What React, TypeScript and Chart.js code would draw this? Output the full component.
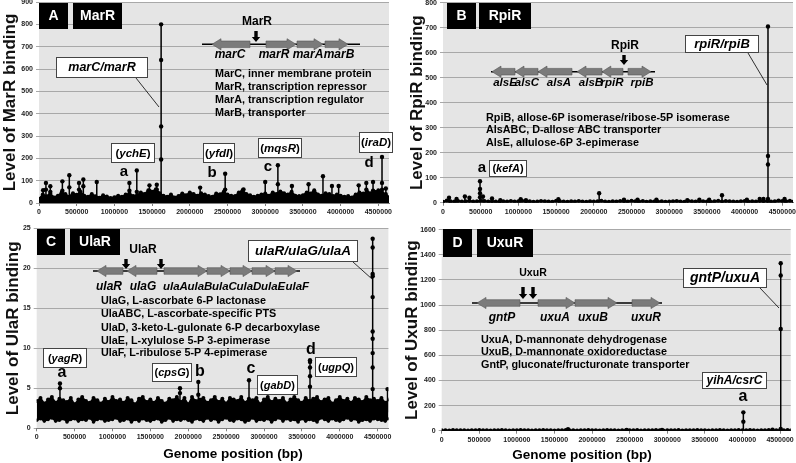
import React, { useEffect, useRef } from "react";
import { Chart, registerables } from "chart.js";

Chart.register(...registerables);

const FONT = '"Liberation Sans", Arial, Helvetica, sans-serif';

// ---------- shared axis data ----------
const GENOME_END = 4641652;
const BIN_SIZE = 50000;
const positionTicks = [0, 500000, 1000000, 1500000, 2000000, 2500000, 3000000, 3500000, 4000000, 4500000];

// ---------- Panel A: MarR ----------
const marTicks = [0, 100, 200, 300, 400, 500, 600, 700, 800, 900];
const marBackground = [
  18, 38, 30, 42, 25, 33, 47, 40, 28, 44,
  37, 50, 33, 28, 40, 30, 24, 35, 29, 22,
  26, 33, 28, 38, 42, 31, 35, 47, 40, 57,
  50, 62, 44, 33, 28, 38, 25, 31, 42, 35,
  47, 40, 33, 44, 38, 31, 28, 42, 39, 50,
  38, 33, 31, 47, 57, 40, 35, 28, 33, 38,
  42, 33, 47, 40, 52, 44, 38, 50, 33, 31,
  35, 47, 42, 57, 38, 33, 44, 40, 31, 38,
  33, 28, 31, 25, 38, 47, 42, 52, 44, 50,
  57, 47, 40, 24,
];
const marPeaks: [number, number[]][] = [
  [55000, [57]], [92000, [90, 60]], [150000, [75, 50]], [310000, [97, 55]],
  [402000, [124, 70]], [531000, [90, 60]], [588000, [105, 75]], [766000, [94]],
  [1199000, [90, 55]], [1297000, [146, 50]], [1465000, [79, 55]], [1562000, [82, 60]],
  [1619600, [800, 640, 343, 195]], [2137000, [69]], [2469000, [131, 60]], [2712000, [61]],
  [3000000, [94]], [3168000, [169, 84]], [3354000, [76]], [3575000, [84]],
  [3766000, [120]], [3885000, [76]], [3974000, [76]], [4240000, [79]],
  [4341000, [90, 60]], [4430000, [94, 55]], [4549000, [206, 90, 60]], [4600000, [65]],
];

// ---------- Panel B: RpiR ----------
const rpiTicks = [0, 100, 200, 300, 400, 500, 600, 700, 800];
const rpiBackground = [
  4, 9, 6, 5, 7, 5, 6, 8, 5, 6,
  8, 7, 5, 6, 5, 4, 6, 5, 7, 5,
  6, 8, 5, 6, 4, 5, 7, 6, 5, 4,
  8, 6, 5, 4, 6, 5, 7, 5, 4, 6,
  5, 6, 8, 5, 4, 6, 5, 7, 6, 5,
  8, 6, 5, 7, 4, 6, 5, 5, 6, 4,
  5, 6, 7, 5, 4, 8, 6, 5, 7, 6,
  5, 4, 6, 8, 5, 7, 6, 5, 4, 6,
  7, 5, 6, 5, 8, 6, 7, 5, 6, 9,
  7, 6, 8, 5,
];
const rpiPeaks: [number, number[]][] = [
  [80000, [20]], [180000, [15]], [290000, [25]], [350000, [20]],
  [491000, [86, 55, 38, 22]], [530000, [25]], [650000, [17]], [760000, [10]],
  [1030000, [14]], [1100000, [10]], [1530000, [14]], [2071000, [38]],
  [2400000, [12]], [2580000, [12]], [2830000, [12]], [3240000, [10]],
  [3400000, [12]], [3530000, [12]], [3700000, [30]], [4030000, [12]],
  [4200000, [15]], [4250000, [15]], [4310000, [705, 187, 153, 15]], [4530000, [15]],
];

// ---------- Panel C: UlaR ----------
const ulaTicks = [0, 5, 10, 15, 20, 25];
const ulaBandHigh = [
  3.4, 3.8, 3.1, 3.6, 3.9, 3.2, 3.7, 3.5, 3.3, 3.8,
  3.0, 3.6, 3.9, 3.4, 3.2, 3.8, 3.5, 3.1, 3.7, 3.3,
  3.9, 3.4, 3.6, 3.2, 3.8, 3.5, 3.0, 3.7, 3.9, 3.3,
  3.6, 3.2, 3.8, 3.4, 3.1, 3.7, 3.5, 3.9, 3.3, 3.8,
  3.0, 3.9, 3.4, 3.6, 3.8, 3.2, 3.5, 3.9, 3.3, 3.7,
  3.1, 3.8, 3.6, 3.4, 3.9, 3.2, 3.7, 3.5, 3.8, 3.0,
  3.6, 3.9, 3.3, 3.7, 3.4, 3.8, 3.1, 3.6, 3.9, 3.5,
  3.2, 3.8, 3.4, 3.7, 3.9, 3.3, 3.6, 3.8, 3.1, 3.5,
  3.9, 3.4, 3.7, 3.2, 3.8, 3.6, 3.3, 3.9, 3.5, 3.7,
  3.4, 3.8, 3.2, 3.6,
];
const ulaBandLow = [
  1.0, 1.2, 0.9, 1.1, 1.3, 0.9, 1.0, 1.2, 0.8, 1.1,
  1.2, 0.9, 1.1, 1.0, 1.3, 0.8, 1.1, 1.2, 0.9, 1.0,
  1.1, 1.3, 0.9, 1.0, 1.2, 0.8, 1.1, 0.9, 1.2, 1.0,
  0.9, 1.1, 1.2, 0.8, 1.0, 1.3, 0.9, 1.1, 1.0, 1.2,
  1.0, 0.8, 1.2, 1.1, 0.9, 1.3, 1.0, 1.2, 0.8, 1.1,
  1.3, 1.0, 0.9, 1.2, 1.1, 0.8, 1.0, 1.3, 0.9, 1.1,
  1.0, 1.2, 0.8, 1.1, 1.3, 0.9, 1.2, 1.0, 1.1, 0.8,
  1.2, 0.9, 1.1, 1.0, 0.8, 1.3, 1.1, 0.9, 1.2, 1.0,
  0.9, 1.1, 1.3, 1.0, 1.2, 0.8, 1.0, 1.1, 0.9, 1.2,
  1.1, 1.0, 0.9, 1.2,
];
const ulaPeaks: [number, number[]][] = [
  [307000, [5.6, 5.0]], [1891000, [5.0, 4.4]], [2133000, [5.8, 4.2]], [2802000, [6.0]],
  [3607000, [8.5, 8.3, 7.6, 6.5, 5.2]],
  [4434000, [23.7, 22.6, 19.3, 19.0, 16.4, 12.1, 11.2, 9.4, 7.6, 4.9]],
  [4630000, [4.9]],
];

// ---------- Panel D: UxuR ----------
const uxuTicks = [0, 200, 400, 600, 800, 1000, 1200, 1400, 1600];
const uxuBackground = [
  3, 4, 2, 5, 3, 4, 3, 2, 4, 3,
  5, 3, 4, 2, 3, 4, 5, 3, 2, 4,
  3, 5, 4, 3, 2, 4, 3, 5, 4, 3,
  2, 4, 3, 5, 3, 4, 2, 3, 4, 5,
  3, 4, 2, 3, 5, 4, 3, 2, 4, 3,
  4, 3, 5, 2, 3, 4, 3, 5, 4, 2,
  3, 4, 3, 5, 2, 4, 3, 4, 5, 3,
  4, 2, 3, 4, 5, 3, 2, 4, 3, 5,
  3, 4, 5, 3, 2, 4, 3, 5, 4, 3,
  4, 3, 5, 4,
];
const uxuPeaks: [number, number[]][] = [
  [1680000, [12]], [2460000, [6]], [2930000, [6]],
  [4012000, [146, 72]], [4400000, [8]], [4509000, [1333, 1235, 810, 13]],
];

// ---------- decorations ----------
type Note =
  | { k: "tag"; x: number; y: number; w: number; h: number; s: string; size: number }
  | { k: "text"; x: number; y: number; s: string; size: number; italic?: boolean; align?: CanvasTextAlign }
  | { k: "box"; x: number; y: number; w: number; h: number; parts: [string, boolean][]; size: number }
  | { k: "line"; x1: number; y1: number; x2: number; y2: number; w?: number }
  | { k: "gene"; x0: number; x1: number; y: number; dir: number }
  | { k: "down"; x: number; y0: number; y1: number };

type Panel = {
  id: string;
  left: number; top: number; width: number; height: number;
  area: { l: number; r: number; t: number; b: number };
  yMax: number; yTicks: number[]; yTitle: string; titleCenter: number;
  background?: number[]; bandLow?: number[]; bandHigh?: number[];
  peaks: [number, number[]][]; peakBase: number;
  notes: Note[];
};

const marNotes: Note[] = [
  { k: "tag", x: 39, y: 3, w: 29, h: 26, s: "A", size: 14 },
  { k: "tag", x: 73, y: 3, w: 49, h: 26, s: "MarR", size: 14 },
  { k: "text", x: 257, y: 22, s: "MarR", size: 12 },
  { k: "line", x1: 202, y1: 44.3, x2: 360, y2: 44.3, w: 1.6 },
  { k: "down", x: 256, y0: 31, y1: 42 },
  { k: "gene", x0: 212, x1: 250, y: 44.3, dir: -1 },
  { k: "gene", x0: 266, x1: 296, y: 44.3, dir: 1 },
  { k: "gene", x0: 297, x1: 323, y: 44.3, dir: 1 },
  { k: "gene", x0: 325, x1: 348, y: 44.3, dir: 1 },
  { k: "text", x: 230, y: 55, s: "marC", size: 12, italic: true },
  { k: "text", x: 274, y: 55, s: "marR", size: 12, italic: true },
  { k: "text", x: 308, y: 55, s: "marA", size: 12, italic: true },
  { k: "text", x: 339, y: 55, s: "marB", size: 12, italic: true },
  { k: "text", x: 215, y: 74.5, s: "MarC, inner membrane protein", size: 10.8, align: "left" },
  { k: "text", x: 215, y: 87.5, s: "MarR, transcription repressor", size: 10.8, align: "left" },
  { k: "text", x: 215, y: 100.5, s: "MarA, transcription regulator", size: 10.8, align: "left" },
  { k: "text", x: 215, y: 113.5, s: "MarB, transporter", size: 10.8, align: "left" },
  { k: "line", x1: 136, y1: 78, x2: 159, y2: 107, w: 0.8 },
  { k: "box", x: 56, y: 57, w: 92, h: 21, parts: [["marC/marR", true]], size: 12.5 },
  { k: "box", x: 111, y: 143, w: 44, h: 20, parts: [["(", false], ["ychE", true], [")", false]], size: 11.5 },
  { k: "text", x: 124, y: 172, s: "a", size: 15 },
  { k: "box", x: 203, y: 143, w: 32, h: 20, parts: [["(", false], ["yfdI", true], [")", false]], size: 11.5 },
  { k: "text", x: 212, y: 173, s: "b", size: 15 },
  { k: "box", x: 258, y: 138, w: 44, h: 20, parts: [["(", false], ["mqsR", true], [")", false]], size: 11.5 },
  { k: "text", x: 268, y: 167, s: "c", size: 15 },
  { k: "box", x: 359, y: 132, w: 34, h: 21, parts: [["(", false], ["iraD", true], [")", false]], size: 11.5 },
  { k: "text", x: 369, y: 163, s: "d", size: 15 },
];

const rpiNotes: Note[] = [
  { k: "tag", x: 447, y: 3, w: 29, h: 26, s: "B", size: 14 },
  { k: "tag", x: 479, y: 3, w: 52, h: 26, s: "RpiR", size: 14 },
  { k: "text", x: 625, y: 46, s: "RpiR", size: 12 },
  { k: "line", x1: 491, y1: 71.7, x2: 655, y2: 71.7, w: 1.6 },
  { k: "down", x: 624, y0: 55, y1: 65 },
  { k: "gene", x0: 492, x1: 515, y: 71.7, dir: -1 },
  { k: "gene", x0: 515, x1: 538, y: 71.7, dir: -1 },
  { k: "gene", x0: 538, x1: 572, y: 71.7, dir: -1 },
  { k: "gene", x0: 577, x1: 602, y: 71.7, dir: -1 },
  { k: "gene", x0: 602, x1: 623, y: 71.7, dir: -1 },
  { k: "gene", x0: 628, x1: 651, y: 71.7, dir: 1 },
  { k: "text", x: 505, y: 83, s: "alsE", size: 11.5, italic: true },
  { k: "text", x: 527, y: 83, s: "alsC", size: 11.5, italic: true },
  { k: "text", x: 559, y: 83, s: "alsA", size: 11.5, italic: true },
  { k: "text", x: 591, y: 83, s: "alsB", size: 11.5, italic: true },
  { k: "text", x: 612, y: 83, s: "rpiR", size: 11.5, italic: true },
  { k: "text", x: 642, y: 83, s: "rpiB", size: 11.5, italic: true },
  { k: "text", x: 486, y: 118, s: "RpiB, allose-6P isomerase/ribose-5P isomerase", size: 10.8, align: "left" },
  { k: "text", x: 486, y: 130.5, s: "AlsABC, D-allose ABC transporter", size: 10.8, align: "left" },
  { k: "text", x: 486, y: 143, s: "AlsE, allulose-6P 3-epimerase", size: 10.8, align: "left" },
  { k: "line", x1: 748, y1: 53, x2: 767, y2: 85, w: 0.8 },
  { k: "box", x: 685, y: 35, w: 74, h: 18, parts: [["rpiR/rpiB", true]], size: 13 },
  { k: "text", x: 482, y: 168, s: "a", size: 15 },
  { k: "box", x: 489, y: 160, w: 38, h: 17, parts: [["(", false], ["kefA", true], [")", false]], size: 11 },
];

const ulaNotes: Note[] = [
  { k: "tag", x: 37, y: 229, w: 28, h: 26, s: "C", size: 14 },
  { k: "tag", x: 70, y: 229, w: 50, h: 26, s: "UlaR", size: 14 },
  { k: "text", x: 143, y: 250, s: "UlaR", size: 12 },
  { k: "line", x1: 93, y1: 271, x2: 300, y2: 271, w: 1.6 },
  { k: "down", x: 126, y0: 259, y1: 269 },
  { k: "down", x: 161, y0: 259, y1: 269 },
  { k: "gene", x0: 97, x1: 123, y: 271, dir: -1 },
  { k: "gene", x0: 127, x1: 157, y: 271, dir: -1 },
  { k: "gene", x0: 164, x1: 207, y: 271, dir: 1 },
  { k: "gene", x0: 207, x1: 230, y: 271, dir: 1 },
  { k: "gene", x0: 230, x1: 252, y: 271, dir: 1 },
  { k: "gene", x0: 252, x1: 275, y: 271, dir: 1 },
  { k: "gene", x0: 275, x1: 297, y: 271, dir: 1 },
  { k: "text", x: 109, y: 287, s: "ulaR", size: 12, italic: true },
  { k: "text", x: 143, y: 287, s: "ulaG", size: 12, italic: true },
  { k: "text", x: 163, y: 287, s: "ulaA", size: 11.5, italic: true, align: "left" },
  { k: "text", x: 187.5, y: 287, s: "ulaB", size: 11.5, italic: true, align: "left" },
  { k: "text", x: 212, y: 287, s: "ulaC", size: 11.5, italic: true, align: "left" },
  { k: "text", x: 236.5, y: 287, s: "ulaD", size: 11.5, italic: true, align: "left" },
  { k: "text", x: 261, y: 287, s: "ulaE", size: 11.5, italic: true, align: "left" },
  { k: "text", x: 285.5, y: 287, s: "ulaF", size: 11.5, italic: true, align: "left" },
  { k: "text", x: 101, y: 301, s: "UlaG, L-ascorbate 6-P lactonase", size: 10.8, align: "left" },
  { k: "text", x: 101, y: 314.3, s: "UlaABC, L-ascorbate-specific PTS", size: 10.8, align: "left" },
  { k: "text", x: 101, y: 327.6, s: "UlaD, 3-keto-L-gulonate 6-P decarboxylase", size: 10.8, align: "left" },
  { k: "text", x: 101, y: 340.9, s: "UlaE, L-xylulose 5-P 3-epimerase", size: 10.8, align: "left" },
  { k: "text", x: 101, y: 353, s: "UlaF, L-ribulose 5-P 4-epimerase", size: 10.8, align: "left" },
  { k: "line", x1: 353, y1: 262, x2: 372, y2: 279, w: 0.8 },
  { k: "box", x: 248, y: 240, w: 110, h: 22, parts: [["ulaR/ulaG/ulaA", true]], size: 13.5 },
  { k: "box", x: 43, y: 348, w: 44, h: 20, parts: [["(", false], ["yagR", true], [")", false]], size: 11 },
  { k: "text", x: 62, y: 373, s: "a", size: 16 },
  { k: "box", x: 152, y: 363, w: 40, h: 19, parts: [["(", false], ["cpsG", true], [")", false]], size: 11 },
  { k: "text", x: 200, y: 372, s: "b", size: 16 },
  { k: "text", x: 251, y: 369, s: "c", size: 16 },
  { k: "box", x: 257, y: 375, w: 41, h: 20, parts: [["(", false], ["gabD", true], [")", false]], size: 11 },
  { k: "text", x: 311, y: 350, s: "d", size: 16 },
  { k: "box", x: 315, y: 357, w: 42, h: 20, parts: [["(", false], ["ugpQ", true], [")", false]], size: 11 },
  { k: "text", x: 233, y: 454, s: "Genome position (bp)", size: 13.5 },
];

const uxuNotes: Note[] = [
  { k: "tag", x: 443, y: 229, w: 29, h: 28, s: "D", size: 14 },
  { k: "tag", x: 477, y: 229, w: 56, h: 28, s: "UxuR", size: 14 },
  { k: "text", x: 533, y: 273, s: "UxuR", size: 10.5 },
  { k: "line", x1: 472, y1: 303, x2: 662, y2: 303, w: 1.6 },
  { k: "down", x: 523, y0: 287, y1: 299 },
  { k: "down", x: 533, y0: 287, y1: 299 },
  { k: "gene", x0: 477, x1: 520, y: 303, dir: -1 },
  { k: "gene", x0: 538, x1: 575, y: 303, dir: 1 },
  { k: "gene", x0: 575, x1: 617, y: 303, dir: 1 },
  { k: "gene", x0: 632, x1: 660, y: 303, dir: 1 },
  { k: "text", x: 502, y: 318, s: "gntP", size: 12, italic: true },
  { k: "text", x: 555, y: 318, s: "uxuA", size: 12, italic: true },
  { k: "text", x: 593, y: 318, s: "uxuB", size: 12, italic: true },
  { k: "text", x: 646, y: 318, s: "uxuR", size: 12, italic: true },
  { k: "text", x: 481, y: 340, s: "UxuA, D-mannonate dehydrogenase", size: 10.8, align: "left" },
  { k: "text", x: 481, y: 352.5, s: "UxuB, D-mannonate oxidoreductase", size: 10.8, align: "left" },
  { k: "text", x: 481, y: 365, s: "GntP, gluconate/fructuronate transporter", size: 10.8, align: "left" },
  { k: "line", x1: 760, y1: 288, x2: 779, y2: 308, w: 0.8 },
  { k: "box", x: 683, y: 268, w: 84, h: 20, parts: [["gntP/uxuA", true]], size: 14 },
  { k: "box", x: 702, y: 372, w: 65, h: 17, parts: [["yihA/csrC", true]], size: 12 },
  { k: "text", x: 743, y: 397, s: "a", size: 16 },
  { k: "text", x: 582, y: 455, s: "Genome position (bp)", size: 13.5 },
];

const panels: Panel[] = [
  {
    id: "A", left: 0, top: 0, width: 398, height: 225,
    area: { l: 39, r: 389, t: 2, b: 203 },
    yMax: 900, yTicks: marTicks, yTitle: "Level of MarR binding", titleCenter: 10,
    background: marBackground, peaks: marPeaks, peakBase: 0, notes: marNotes,
  },
  {
    id: "B", left: 400, top: 0, width: 396, height: 225,
    area: { l: 443, r: 793, t: 2.7, b: 202.7 },
    yMax: 800, yTicks: rpiTicks, yTitle: "Level of RpiR binding", titleCenter: 17.5,
    background: rpiBackground, peaks: rpiPeaks, peakBase: 0, notes: rpiNotes,
  },
  {
    id: "C", left: 0, top: 225, width: 398, height: 238,
    area: { l: 36.7, r: 388.4, t: 228.3, b: 428.3 },
    yMax: 25, yTicks: ulaTicks, yTitle: "Level of UlaR binding", titleCenter: 13,
    bandLow: ulaBandLow, bandHigh: ulaBandHigh, peaks: ulaPeaks, peakBase: 2, notes: ulaNotes,
  },
  {
    id: "D", left: 400, top: 225, width: 396, height: 238,
    area: { l: 441.7, r: 790.7, t: 229.7, b: 430.7 },
    yMax: 1600, yTicks: uxuTicks, yTitle: "Level of UxuR binding", titleCenter: 12,
    background: uxuBackground, peaks: uxuPeaks, peakBase: 0, notes: uxuNotes,
  },
];

function font(size: number, italic = false) {
  return `${italic ? "italic " : ""}bold ${size}px ${FONT}`;
}

function drawGene(ctx: CanvasRenderingContext2D, x0: number, x1: number, y: number, dir: number) {
  const len = x1 - x0;
  const hl = Math.min(9, len * 0.42);
  const bh = 3.3;
  const hh = 5.6;
  ctx.beginPath();
  if (dir > 0) {
    ctx.moveTo(x0, y - bh);
    ctx.lineTo(x1 - hl, y - bh);
    ctx.lineTo(x1 - hl, y - hh);
    ctx.lineTo(x1, y);
    ctx.lineTo(x1 - hl, y + hh);
    ctx.lineTo(x1 - hl, y + bh);
    ctx.lineTo(x0, y + bh);
  } else {
    ctx.moveTo(x1, y - bh);
    ctx.lineTo(x0 + hl, y - bh);
    ctx.lineTo(x0 + hl, y - hh);
    ctx.lineTo(x0, y);
    ctx.lineTo(x0 + hl, y + hh);
    ctx.lineTo(x0 + hl, y + bh);
    ctx.lineTo(x1, y + bh);
  }
  ctx.closePath();
  ctx.fillStyle = "#7b7b7b";
  ctx.fill();
  ctx.strokeStyle = "#555";
  ctx.lineWidth = 0.6;
  ctx.stroke();
}

function drawNotes(ctx: CanvasRenderingContext2D, panel: Panel) {
  ctx.save();
  ctx.translate(-panel.left, -panel.top);
  ctx.textBaseline = "middle";
  for (const n of panel.notes) {
    if (n.k === "tag") {
      ctx.fillStyle = "#000";
      ctx.fillRect(n.x, n.y, n.w, n.h);
      ctx.fillStyle = "#fff";
      ctx.font = font(n.size);
      ctx.textAlign = "center";
      ctx.fillText(n.s, n.x + n.w / 2, n.y + n.h / 2 + 0.5);
    } else if (n.k === "text") {
      ctx.fillStyle = "#000";
      ctx.font = font(n.size, !!n.italic);
      ctx.textAlign = n.align || "center";
      ctx.fillText(n.s, n.x, n.y);
    } else if (n.k === "box") {
      ctx.fillStyle = "#fff";
      ctx.fillRect(n.x, n.y, n.w, n.h);
      ctx.strokeStyle = "#444";
      ctx.lineWidth = 1;
      ctx.strokeRect(n.x + 0.5, n.y + 0.5, n.w - 1, n.h - 1);
      let total = 0;
      for (const [s, it] of n.parts) {
        ctx.font = font(n.size, it);
        total += ctx.measureText(s).width;
      }
      let cx = n.x + n.w / 2 - total / 2;
      ctx.fillStyle = "#000";
      ctx.textAlign = "left";
      for (const [s, it] of n.parts) {
        ctx.font = font(n.size, it);
        ctx.fillText(s, cx, n.y + n.h / 2 + 0.5);
        cx += ctx.measureText(s).width;
      }
    } else if (n.k === "line") {
      ctx.strokeStyle = "#000";
      ctx.lineWidth = n.w || 1;
      ctx.beginPath();
      ctx.moveTo(n.x1, n.y1);
      ctx.lineTo(n.x2, n.y2);
      ctx.stroke();
    } else if (n.k === "gene") {
      drawGene(ctx, n.x0, n.x1, n.y, n.dir);
    } else if (n.k === "down") {
      const hl = 5;
      ctx.fillStyle = "#000";
      ctx.beginPath();
      ctx.moveTo(n.x - 1.7, n.y0);
      ctx.lineTo(n.x + 1.7, n.y0);
      ctx.lineTo(n.x + 1.7, n.y1 - hl);
      ctx.lineTo(n.x + 4.2, n.y1 - hl);
      ctx.lineTo(n.x, n.y1);
      ctx.lineTo(n.x - 4.2, n.y1 - hl);
      ctx.lineTo(n.x - 1.7, n.y1 - hl);
      ctx.closePath();
      ctx.fill();
    }
  }
  ctx.restore();
}

function peakPoints(peaks: [number, number[]][], base: number) {
  const out: any[] = [];
  for (const [pos, vals] of peaks) {
    out.push({ x: pos, y: base, b: true });
    [...vals].sort((a, c) => a - c).forEach((v) => out.push({ x: pos, y: v }));
    out.push({ x: pos, y: null, b: true });
  }
  return out;
}

function binPoints(vals: number[]) {
  return vals.map((v, i) => ({ x: i * BIN_SIZE, y: v }));
}

function buildConfig(panel: Panel): any {
  const yW = panel.area.l - panel.left;
  const xH = panel.top + panel.height - panel.area.b;
  const padTop = panel.area.t - panel.top;
  const padRight = panel.left + panel.width - panel.area.r;
  const datasets: any[] = [];
  const common = {
    borderColor: "#000",
    backgroundColor: "#000",
    pointBackgroundColor: "#000",
    pointBorderColor: "#000",
    pointBorderWidth: 0,
    tension: 0,
  };
  if (panel.bandLow && panel.bandHigh) {
    datasets.push({ ...common, data: binPoints(panel.bandLow), borderWidth: 1.5, pointRadius: 1.8, fill: false });
    datasets.push({ ...common, data: binPoints(panel.bandHigh), borderWidth: 1.5, pointRadius: 2, fill: "-1" });
  } else if (panel.background) {
    datasets.push({ ...common, data: binPoints(panel.background), borderWidth: 1.8, pointRadius: 2, fill: "origin" });
  }
  datasets.push({
    ...common,
    data: peakPoints(panel.peaks, panel.peakBase),
    borderWidth: 1.5,
    fill: false,
    spanGaps: false,
    pointRadius: (c: any) => (c.raw && c.raw.b ? 0 : 2.2),
  });
  const tickFont = { family: FONT, size: 7, weight: "bold" as const };
  const zeroPad = (s: any) => {
    s.paddingLeft = 0;
    s.paddingRight = 0;
    s.paddingTop = 0;
    s.paddingBottom = 0;
  };
  return {
    type: "line",
    data: { datasets },
    options: {
      animation: false,
      responsive: false,
      devicePixelRatio: 1,
      events: [],
      layout: { autoPadding: false, padding: { left: 0, top: padTop, right: padRight, bottom: 0 } },
      plugins: { legend: { display: false }, tooltip: { enabled: false } },
      scales: {
        x: {
          type: "linear",
          min: 0,
          max: GENOME_END,
          afterBuildTicks: (s: any) => {
            s.ticks = positionTicks.map((v) => ({ value: v }));
          },
          afterFit: (s: any) => {
            s.height = xH;
            zeroPad(s);
          },
          grid: { display: true, drawOnChartArea: false, drawTicks: true, tickLength: 3, color: "#808080" },
          border: { display: true, color: "#808080" },
          ticks: {
            font: tickFont,
            color: "#222",
            maxRotation: 0,
            minRotation: 0,
            autoSkip: false,
            padding: 2,
            callback: (v: any) => String(v),
          },
        },
        y: {
          type: "linear",
          min: 0,
          max: panel.yMax,
          afterBuildTicks: (s: any) => {
            s.ticks = panel.yTicks.map((v) => ({ value: v }));
          },
          afterFit: (s: any) => {
            s.width = yW;
            zeroPad(s);
          },
          grid: { color: "#a8a8a8", lineWidth: 1, drawTicks: true, tickLength: 3 },
          border: { display: false },
          ticks: { font: tickFont, color: "#222", padding: 3, callback: (v: any) => String(v) },
          title: {
            display: true,
            text: panel.yTitle,
            color: "#111",
            font: { family: FONT, size: 17, weight: "bold", lineHeight: 1 },
            padding: { top: panel.titleCenter - 8.5, bottom: 0 },
          },
        },
      },
    },
    plugins: [
      {
        id: "panelDecor",
        beforeDraw(chart: any) {
          const { ctx, chartArea: a } = chart;
          ctx.save();
          ctx.fillStyle = "#e5e5e5";
          ctx.fillRect(a.left, a.top, a.right - a.left, a.bottom - a.top);
          ctx.restore();
        },
        afterDraw(chart: any) {
          drawNotes(chart.ctx, panel);
        },
      },
    ],
  };
}

function PanelChart({ panel }: { panel: Panel }) {
  const ref = useRef<HTMLCanvasElement>(null);
  useEffect(() => {
    const chart = new Chart(ref.current as HTMLCanvasElement, buildConfig(panel));
    return () => chart.destroy();
  }, [panel]);
  return (
    <canvas
      ref={ref}
      width={panel.width}
      height={panel.height}
      style={{ position: "absolute", left: panel.left, top: panel.top, width: panel.width, height: panel.height }}
    />
  );
}

export default function App() {
  return (
    <div style={{ position: "fixed", left: 0, top: 0, width: 796, height: 463, background: "#fff", overflow: "hidden" }}>
      {panels.map((p) => (
        <PanelChart key={p.id} panel={p} />
      ))}
    </div>
  );
}
